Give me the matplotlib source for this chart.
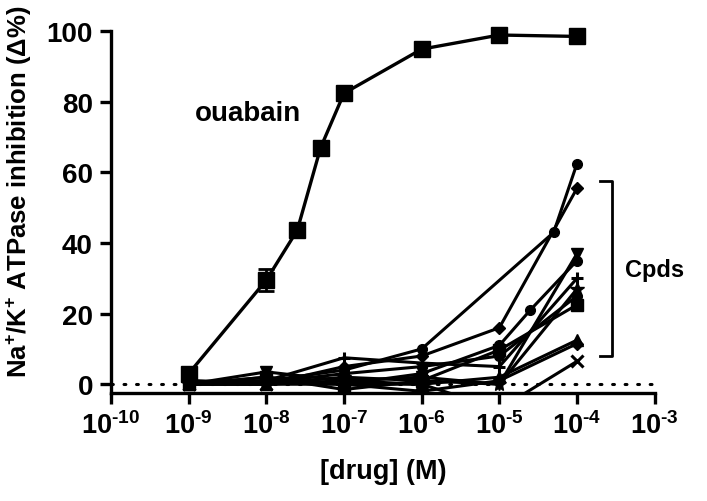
import matplotlib
matplotlib.use("Agg")
import matplotlib.pyplot as plt
import matplotlib.transforms as mtransforms
import numpy as np

plt.rcParams['font.family'] = ['Liberation Sans', 'DejaVu Sans']
plt.rcParams['font.weight'] = 'bold'
plt.rcParams['mathtext.fontset'] = 'custom'
plt.rcParams['mathtext.rm'] = 'Liberation Sans:bold'
plt.rcParams['mathtext.bf'] = 'Liberation Sans:bold'
plt.rcParams['mathtext.it'] = 'Liberation Sans:bold'

# ---- data ----
ouabain_x = [1e-9, 1e-8, 2.5e-8, 5e-8, 1e-7, 1e-6, 1e-5, 1e-4]
ouabain_y = [3, 29.5, 43.6, 67, 82.4, 94.9, 98.9, 98.5]
ouabain_err = [0.5, 3, 1, 1.5, 1, 0.8, 0.5, 0.5]

cpd_series = [
    # (marker, x values, y values)
    ('o', [1e-9, 1e-8, 1e-7, 1e-6, 5e-5, 1e-4], [0, 1, 4, 10, 43, 62.5]),
    ('D', [1e-9, 1e-8, 1e-7, 1e-6, 1e-5, 1e-4], [1, 0, 5, 8, 16, 55.5]),
    ('v', [1e-9, 1e-8, 1e-7, 1e-6, 1e-5, 1e-4], [0, 3.5, 1, 2, 0, 37]),
    ('o', [1e-9, 1e-8, 1e-7, 1e-6, 1e-5, 2.5e-5, 1e-4], [0, 2, 0, 3, 11, 21, 35]),
    ('+', [1e-9, 1e-8, 1e-7, 1e-6, 1e-5, 1e-4], [0, 1, 7.5, 6, 5, 30]),
    ('*', [1e-9, 1e-8, 1e-7, 1e-6, 1e-5, 1e-4], [0, 0, 2, 1, 0, 27]),
    ('s', [1e-9, 1e-8, 1e-7, 1e-6, 1e-5, 1e-4], [0, 2, -1.5, 1, 9.7, 22.5]),
    ('^', [1e-9, 1e-8, 1e-7, 1e-6, 1e-5, 1e-4], [0, 0, 1, 0, 2, 12.5]),
    ('D', [1e-9, 1e-8, 1e-7, 1e-6, 1e-5, 1e-4], [0, 1, 0, -2, 1, 11.5]),
    ('x', [1e-9, 1e-8, 1e-7, 1e-6, 1e-5, 1e-4], [0, 0, 0, 0, -7, 6.5]),
    ('o', [1e-9, 1e-8, 1e-7, 1e-6, 1e-5, 1e-4], [1, 0.5, 3, 5, 8, 25]),
]

xticks = [1e-10, 1e-9, 1e-8, 1e-7, 1e-6, 1e-5, 1e-4, 1e-3]
xtick_exps = ['10', '9', '8', '7', '6', '5', '4', '3']
yticks = [0, 20, 40, 60, 80, 100]

# ---- figure ----
fig = plt.figure(figsize=(7.07, 5.02), dpi=100)
ax = fig.add_axes([0.157, 0.215, 0.769, 0.721])
ax.set_xscale('log')
ax.set_xlim(1e-10, 1e-3)
ax.set_ylim(-2.5, 100)

ax.axhline(0, color='black', linestyle=(0, (0.6, 3.5)), linewidth=2.2,
           dash_capstyle='round', zorder=1)

msizes = {'o': 7, 'D': 6, 'v': 9, '^': 9, 's': 9, '+': 9, '*': 10, 'x': 8}
for m, xs, ys in cpd_series:
    ax.plot(xs, ys, color='black', linewidth=2.2, marker=m,
            markersize=msizes[m], markeredgewidth=2.2 if m in '+x' else 1,
            markeredgecolor='black', markerfacecolor='black', zorder=3)

ax.errorbar(ouabain_x, ouabain_y, yerr=ouabain_err, color='black',
            linewidth=2.4, marker='s', markersize=11, capsize=6,
            elinewidth=2, capthick=2, zorder=4, clip_on=False)

for s in ['top', 'right']:
    ax.spines[s].set_visible(False)
for s in ['left', 'bottom']:
    ax.spines[s].set_linewidth(2.4)

hyph = '\u2010'
ax.set_xticks(xticks)
ax.set_xticklabels(['$10^{\\mathrm{' + hyph + e + '}}$' for e in xtick_exps])
ax.xaxis.set_minor_locator(matplotlib.ticker.NullLocator())
ax.set_yticks(yticks)
ax.set_yticklabels([str(v) for v in yticks])
ax.tick_params(axis='both', direction='out', length=8, width=2.4,
               labelsize=20, pad=5)
ax.tick_params(axis='x', labelsize=19.5, pad=5)

ax.set_xlabel('[drug] (M)', fontsize=19.5, fontweight='bold', labelpad=14)
ax.set_ylabel(r'Na$^{+}$/K$^{+}$ ATPase inhibition ($\Delta$%)', fontsize=18.5,
              fontweight='bold')
ax.yaxis.set_label_coords(-0.142, 0.56)

bt = mtransforms.blended_transform_factory(ax.transAxes, ax.transData)
ax.text(0.252, 76.8, 'ouabain', transform=bt,
        fontsize=20, fontweight='bold', ha='center', va='center')

ax.plot([0.899, 0.921, 0.921, 0.899], [57.6, 57.6, 7.9, 7.9], color='black',
        linewidth=2, transform=bt, clip_on=False)
ax.text(1.0, 32.5, 'Cpds', transform=bt, fontsize=17, fontweight='bold',
        ha='center', va='center')

fig.savefig('out.png', dpi=100)
